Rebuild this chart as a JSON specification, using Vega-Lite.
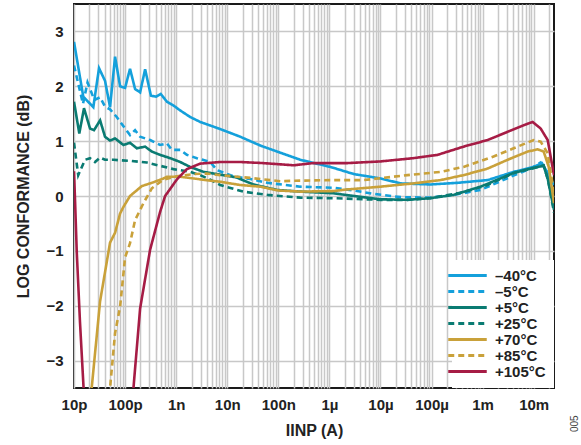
{
  "$schema": "https://vega.github.io/schema/vega-lite/v6.json",
  "width": 480,
  "height": 384,
  "autosize": {"type": "none"},
  "padding": {"left": 74, "top": 4, "right": 27, "bottom": 57},
  "background": "white",
  "title": {"text": "005", "orient": "right", "anchor": "end", "frame": "bounds", "fontSize": 10, "fontWeight": "normal", "font": "Liberation Sans", "color": "#444", "offset": 6, "angle": -90, "align": "left", "dx": 6},
  "config": {
    "view": {"stroke": "#1a1a1a", "strokeWidth": 2},
    "font": "Liberation Sans",
    "axis": {"labelFont": "Liberation Sans", "labelFontSize": 15, "labelFontWeight": "bold", "labelColor": "#222", "titleFont": "Liberation Sans", "titleFontSize": 16, "titleFontWeight": "bold", "titleColor": "#222", "gridColor": "#c8c8c8", "gridWidth": 1.5, "gridOpacity": 1, "ticks": false, "domain": false}
  },
  "data": {"values": [
    {"T":"–40°C","I":1e-11,"v":2.81},{"T":"–40°C","I":1.52e-11,"v":1.81},{"T":"–40°C","I":2.39e-11,"v":1.62},{"T":"–40°C","I":3.09e-11,"v":2.33},{"T":"–40°C","I":4.05e-11,"v":2.1},{"T":"–40°C","I":5.08e-11,"v":1.62},{"T":"–40°C","I":6.37e-11,"v":2.54},{"T":"–40°C","I":7.98e-11,"v":2.0},{"T":"–40°C","I":1e-10,"v":1.97},{"T":"–40°C","I":1.25e-10,"v":2.32},{"T":"–40°C","I":1.57e-10,"v":1.95},{"T":"–40°C","I":1.97e-10,"v":1.89},{"T":"–40°C","I":2.47e-10,"v":2.31},{"T":"–40°C","I":3.2e-10,"v":1.83},{"T":"–40°C","I":4.06e-10,"v":1.81},{"T":"–40°C","I":5e-10,"v":1.86},{"T":"–40°C","I":6.58e-10,"v":1.72},{"T":"–40°C","I":8.85e-10,"v":1.65},{"T":"–40°C","I":1.2e-9,"v":1.56},{"T":"–40°C","I":1.88e-9,"v":1.44},{"T":"–40°C","I":2.96e-9,"v":1.35},{"T":"–40°C","I":7.29e-9,"v":1.22},{"T":"–40°C","I":1.8e-8,"v":1.08},{"T":"–40°C","I":4.44e-8,"v":0.92},{"T":"–40°C","I":1.09e-7,"v":0.79},{"T":"–40°C","I":2.7e-7,"v":0.66},{"T":"–40°C","I":1.05e-6,"v":0.53},{"T":"–40°C","I":3e-6,"v":0.4},{"T":"–40°C","I":1e-5,"v":0.32},{"T":"–40°C","I":2.47e-5,"v":0.23},{"T":"–40°C","I":9.5e-5,"v":0.21},{"T":"–40°C","I":3.2e-4,"v":0.24},{"T":"–40°C","I":1.25e-3,"v":0.29},{"T":"–40°C","I":4.06e-3,"v":0.44},{"T":"–40°C","I":1e-2,"v":0.53},{"T":"–40°C","I":1.45e-2,"v":0.6},{"T":"–40°C","I":1.88e-2,"v":0.41},{"T":"–40°C","I":2.5e-2,"v":0.2},
    {"T":"–5°C","I":1e-11,"v":2.38},{"T":"–5°C","I":1.5e-11,"v":1.68},{"T":"–5°C","I":1.84e-11,"v":2.07},{"T":"–5°C","I":2.5e-11,"v":1.75},{"T":"–5°C","I":3.24e-11,"v":1.8},{"T":"–5°C","I":4.05e-11,"v":1.63},{"T":"–5°C","I":5.08e-11,"v":1.58},{"T":"–5°C","I":6.87e-11,"v":1.44},{"T":"–5°C","I":1e-10,"v":1.23},{"T":"–5°C","I":1.25e-10,"v":1.11},{"T":"–5°C","I":1.57e-10,"v":1.2},{"T":"–5°C","I":1.97e-10,"v":1.08},{"T":"–5°C","I":3.09e-10,"v":1.02},{"T":"–5°C","I":4.85e-10,"v":0.93},{"T":"–5°C","I":6.58e-10,"v":0.96},{"T":"–5°C","I":8.24e-10,"v":0.84},{"T":"–5°C","I":1.2e-9,"v":0.84},{"T":"–5°C","I":1.62e-9,"v":0.75},{"T":"–5°C","I":2.55e-9,"v":0.69},{"T":"–5°C","I":4.64e-9,"v":0.62},{"T":"–5°C","I":6.37e-9,"v":0.47},{"T":"–5°C","I":1.31e-8,"v":0.36},{"T":"–5°C","I":2.83e-8,"v":0.31},{"T":"–5°C","I":6.08e-8,"v":0.24},{"T":"–5°C","I":2.7e-7,"v":0.17},{"T":"–5°C","I":1.2e-6,"v":0.15},{"T":"–5°C","I":3e-6,"v":0.1},{"T":"–5°C","I":7.3e-6,"v":0.04},{"T":"–5°C","I":2.47e-5,"v":-0.02},{"T":"–5°C","I":9.5e-5,"v":-0.03},{"T":"–5°C","I":2.7e-4,"v":0.02},{"T":"–5°C","I":9.1e-4,"v":0.11},{"T":"–5°C","I":3.54e-3,"v":0.35},{"T":"–5°C","I":8.73e-3,"v":0.5},{"T":"–5°C","I":1.37e-2,"v":0.61},{"T":"–5°C","I":1.8e-2,"v":0.45},{"T":"–5°C","I":2.5e-2,"v":0.0},
    {"T":"+5°C","I":1e-11,"v":1.72},{"T":"+5°C","I":1.27e-11,"v":1.14},{"T":"+5°C","I":1.57e-11,"v":1.6},{"T":"+5°C","I":2.06e-11,"v":1.23},{"T":"+5°C","I":2.47e-11,"v":1.2},{"T":"+5°C","I":3.24e-11,"v":1.38},{"T":"+5°C","I":4.05e-11,"v":1.08},{"T":"+5°C","I":5.08e-11,"v":1.01},{"T":"+5°C","I":6.37e-11,"v":1.05},{"T":"+5°C","I":9.27e-11,"v":0.93},{"T":"+5°C","I":1.25e-10,"v":0.97},{"T":"+5°C","I":1.69e-10,"v":0.87},{"T":"+5°C","I":2.47e-10,"v":0.9},{"T":"+5°C","I":3.34e-10,"v":0.81},{"T":"+5°C","I":4.85e-10,"v":0.75},{"T":"+5°C","I":7.63e-10,"v":0.69},{"T":"+5°C","I":1.2e-9,"v":0.62},{"T":"+5°C","I":1.88e-9,"v":0.53},{"T":"+5°C","I":3.43e-9,"v":0.44},{"T":"+5°C","I":1.5e-8,"v":0.34},{"T":"+5°C","I":3.24e-8,"v":0.21},{"T":"+5°C","I":9.5e-8,"v":0.11},{"T":"+5°C","I":2.7e-7,"v":0.08},{"T":"+5°C","I":1.2e-6,"v":0.05},{"T":"+5°C","I":3e-6,"v":0.0},{"T":"+5°C","I":1e-5,"v":-0.06},{"T":"+5°C","I":3.4e-5,"v":-0.07},{"T":"+5°C","I":9.5e-5,"v":-0.04},{"T":"+5°C","I":2.7e-4,"v":0.02},{"T":"+5°C","I":9.1e-4,"v":0.17},{"T":"+5°C","I":4.06e-3,"v":0.42},{"T":"+5°C","I":1.2e-2,"v":0.53},{"T":"+5°C","I":1.57e-2,"v":0.55},{"T":"+5°C","I":1.9e-2,"v":0.3},{"T":"+5°C","I":2.5e-2,"v":-0.25},
    {"T":"+25°C","I":1e-11,"v":0.97},{"T":"+25°C","I":1.21e-11,"v":0.38},{"T":"+25°C","I":1.64e-11,"v":0.66},{"T":"+25°C","I":2.06e-11,"v":0.69},{"T":"+25°C","I":2.58e-11,"v":0.62},{"T":"+25°C","I":3.24e-11,"v":0.7},{"T":"+25°C","I":4.05e-11,"v":0.66},{"T":"+25°C","I":5.9e-11,"v":0.66},{"T":"+25°C","I":1.25e-10,"v":0.64},{"T":"+25°C","I":2.66e-10,"v":0.61},{"T":"+25°C","I":4.85e-10,"v":0.55},{"T":"+25°C","I":8.85e-10,"v":0.49},{"T":"+25°C","I":1.88e-9,"v":0.44},{"T":"+25°C","I":2.96e-9,"v":0.38},{"T":"+25°C","I":4.64e-9,"v":0.3},{"T":"+25°C","I":7.29e-9,"v":0.2},{"T":"+25°C","I":2.06e-8,"v":0.08},{"T":"+25°C","I":6.08e-8,"v":0.02},{"T":"+25°C","I":2.7e-7,"v":-0.03},{"T":"+25°C","I":1.2e-6,"v":-0.04},{"T":"+25°C","I":1e-5,"v":-0.07},{"T":"+25°C","I":3.38e-5,"v":-0.07},{"T":"+25°C","I":9.5e-5,"v":-0.04},{"T":"+25°C","I":4.24e-4,"v":0.07},{"T":"+25°C","I":1.25e-3,"v":0.2},{"T":"+25°C","I":4.06e-3,"v":0.42},{"T":"+25°C","I":1.2e-2,"v":0.53},{"T":"+25°C","I":1.57e-2,"v":0.56},{"T":"+25°C","I":1.9e-2,"v":0.3},{"T":"+25°C","I":2.5e-2,"v":-0.3},
    {"T":"+70°C","I":1.97e-11,"v":-4.0},{"T":"+70°C","I":2.22e-11,"v":-3.5},{"T":"+70°C","I":3.24e-11,"v":-1.92},{"T":"+70°C","I":5.08e-11,"v":-0.85},{"T":"+70°C","I":6.37e-11,"v":-0.67},{"T":"+70°C","I":7.98e-11,"v":-0.32},{"T":"+70°C","I":9.27e-11,"v":-0.2},{"T":"+70°C","I":1.25e-10,"v":0.0},{"T":"+70°C","I":2.12e-10,"v":0.18},{"T":"+70°C","I":3.59e-10,"v":0.25},{"T":"+70°C","I":5.64e-10,"v":0.32},{"T":"+70°C","I":6.58e-10,"v":0.35},{"T":"+70°C","I":1.2e-9,"v":0.35},{"T":"+70°C","I":2.18e-9,"v":0.32},{"T":"+70°C","I":4.64e-9,"v":0.28},{"T":"+70°C","I":7.29e-9,"v":0.26},{"T":"+70°C","I":1.8e-8,"v":0.2},{"T":"+70°C","I":4.44e-8,"v":0.17},{"T":"+70°C","I":1e-7,"v":0.1},{"T":"+70°C","I":2.7e-7,"v":0.08},{"T":"+70°C","I":1.2e-6,"v":0.09},{"T":"+70°C","I":2.25e-6,"v":0.12},{"T":"+70°C","I":1e-5,"v":0.17},{"T":"+70°C","I":4.44e-5,"v":0.23},{"T":"+70°C","I":1.5e-4,"v":0.29},{"T":"+70°C","I":4.24e-4,"v":0.38},{"T":"+70°C","I":1.25e-3,"v":0.5},{"T":"+70°C","I":3.09e-3,"v":0.66},{"T":"+70°C","I":7.62e-3,"v":0.81},{"T":"+70°C","I":1.2e-2,"v":0.85},{"T":"+70°C","I":1.57e-2,"v":0.81},{"T":"+70°C","I":1.97e-2,"v":0.53},{"T":"+70°C","I":2.5e-2,"v":-0.13},
    {"T":"+85°C","I":4.54e-11,"v":-4.0},{"T":"+85°C","I":5.08e-11,"v":-3.5},{"T":"+85°C","I":6.37e-11,"v":-2.5},{"T":"+85°C","I":7.98e-11,"v":-2.02},{"T":"+85°C","I":1e-10,"v":-1.12},{"T":"+85°C","I":1.25e-10,"v":-0.86},{"T":"+85°C","I":1.57e-10,"v":-0.44},{"T":"+85°C","I":2.29e-10,"v":-0.13},{"T":"+85°C","I":3.34e-10,"v":0.14},{"T":"+85°C","I":5.64e-10,"v":0.3},{"T":"+85°C","I":1.03e-9,"v":0.36},{"T":"+85°C","I":2.18e-9,"v":0.4},{"T":"+85°C","I":4e-9,"v":0.41},{"T":"+85°C","I":7.29e-9,"v":0.38},{"T":"+85°C","I":2.83e-8,"v":0.33},{"T":"+85°C","I":1.09e-7,"v":0.27},{"T":"+85°C","I":2.7e-7,"v":0.28},{"T":"+85°C","I":1.2e-6,"v":0.29},{"T":"+85°C","I":4.65e-6,"v":0.29},{"T":"+85°C","I":3.38e-5,"v":0.38},{"T":"+85°C","I":1.5e-4,"v":0.44},{"T":"+85°C","I":4.24e-4,"v":0.53},{"T":"+85°C","I":1.64e-3,"v":0.72},{"T":"+85°C","I":4.06e-3,"v":0.87},{"T":"+85°C","I":1e-2,"v":1.02},{"T":"+85°C","I":1.37e-2,"v":0.99},{"T":"+85°C","I":1.88e-2,"v":0.78},{"T":"+85°C","I":2.5e-2,"v":0.05},
    {"T":"+105°C","I":1e-11,"v":0.45},{"T":"+105°C","I":1.05e-11,"v":-0.1},{"T":"+105°C","I":1.13e-11,"v":-1.0},{"T":"+105°C","I":1.31e-11,"v":-2.3},{"T":"+105°C","I":1.54e-11,"v":-3.5},{"T":"+105°C","I":1.61e-11,"v":-4.0},{"T":"+105°C","I":1.31e-10,"v":-4.0},{"T":"+105°C","I":1.46e-10,"v":-3.5},{"T":"+105°C","I":1.97e-10,"v":-2.05},{"T":"+105°C","I":3.09e-10,"v":-0.98},{"T":"+105°C","I":4.85e-10,"v":-0.29},{"T":"+105°C","I":6.08e-10,"v":0.0},{"T":"+105°C","I":1.03e-9,"v":0.3},{"T":"+105°C","I":1.62e-9,"v":0.49},{"T":"+105°C","I":2.96e-9,"v":0.59},{"T":"+105°C","I":7.29e-9,"v":0.62},{"T":"+105°C","I":1.8e-8,"v":0.62},{"T":"+105°C","I":5e-8,"v":0.6},{"T":"+105°C","I":2e-7,"v":0.56},{"T":"+105°C","I":4.85e-7,"v":0.6},{"T":"+105°C","I":2.25e-6,"v":0.6},{"T":"+105°C","I":1e-5,"v":0.63},{"T":"+105°C","I":4.44e-5,"v":0.69},{"T":"+105°C","I":1.31e-4,"v":0.75},{"T":"+105°C","I":4.24e-4,"v":0.9},{"T":"+105°C","I":1.25e-3,"v":1.02},{"T":"+105°C","I":3.09e-3,"v":1.17},{"T":"+105°C","I":6.37e-3,"v":1.29},{"T":"+105°C","I":9.55e-3,"v":1.35},{"T":"+105°C","I":1.37e-2,"v":1.23},{"T":"+105°C","I":1.88e-2,"v":1.02},{"T":"+105°C","I":2.5e-2,"v":0.38}
  ]},
  "mark": {"type": "line", "strokeWidth": 2.6, "clip": true, "interpolate": "linear"},
  "encoding": {
    "x": {"field": "I", "type": "quantitative",
      "scale": {"type": "log", "domain": [1e-11, 0.025], "nice": false},
      "axis": {"title": "IINP (A)", "titlePadding": 10, "labelPadding": 9, "labelFlush": false, "labelOverlap": false,
        "values": [1e-11,2e-11,3e-11,4e-11,5e-11,6e-11,7e-11,8e-11,9e-11,1e-10,2e-10,3e-10,4e-10,5e-10,6e-10,7e-10,8e-10,9e-10,1e-9,2e-9,3e-9,4e-9,5e-9,6e-9,7e-9,8e-9,9e-9,1e-8,2e-8,3e-8,4e-8,5e-8,6e-8,7e-8,8e-8,9e-8,1e-7,2e-7,3e-7,4e-7,5e-7,6e-7,7e-7,8e-7,9e-7,1e-6,2e-6,3e-6,4e-6,5e-6,6e-6,7e-6,8e-6,9e-6,1e-5,2e-5,3e-5,4e-5,5e-5,6e-5,7e-5,8e-5,9e-5,1e-4,2e-4,3e-4,4e-4,5e-4,6e-4,7e-4,8e-4,9e-4,1e-3,2e-3,3e-3,4e-3,5e-3,6e-3,7e-3,8e-3,9e-3,1e-2,2e-2],
        "labelExpr": "substring(format(datum.value, '.0e'), 0, 1) == '1' ? format(datum.value, '~s') : ''"}},
    "y": {"field": "v", "type": "quantitative",
      "scale": {"domain": [-3.5, 3.5], "nice": false, "zero": false},
      "axis": {"title": "LOG CONFORMANCE (dB)", "values": [-3,-2,-1,0,1,2,3], "labelPadding": 11, "titlePadding": 14}},
    "color": {"field": "T", "type": "nominal",
      "scale": {"domain": ["–40°C","–5°C","+5°C","+25°C","+70°C","+85°C","+105°C"], "range": ["#14a0db","#14a0db","#0a7b72","#0a7b72","#c9a13a","#c9a13a","#a61c45"]},
      "legend": {"title": null, "orient": "bottom-right", "offset": 0, "fillColor": "white", "padding": 8, "labelFont": "Liberation Sans", "labelFontSize": 15, "labelFontWeight": "bold", "labelColor": "#222", "symbolType": "M-3.5,0H3.5", "symbolSize": 121, "symbolStrokeWidth": 3, "labelOffset": 20, "rowPadding": 0}},
    "strokeDash": {"field": "T", "type": "nominal",
      "scale": {"domain": ["–40°C","–5°C","+5°C","+25°C","+70°C","+85°C","+105°C"], "range": [[1,0],[6,4],[1,0],[6,4],[1,0],[6,4],[1,0]]},
      "legend": {"title": null}}
  }
}
